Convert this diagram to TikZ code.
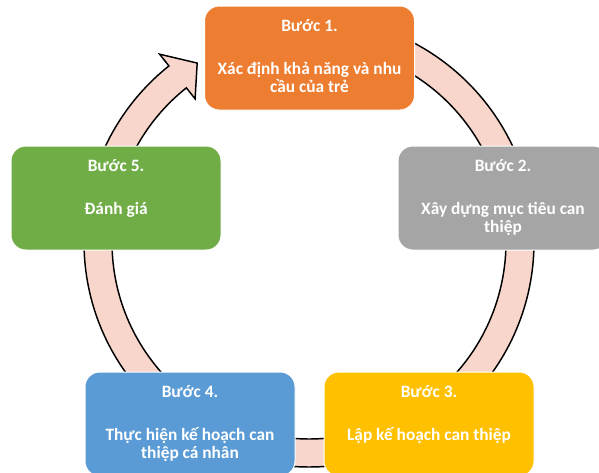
\documentclass[tikz,border=0pt]{standalone}
\usepackage{fontspec}
\setmainfont{Carlito}
\usetikzlibrary{positioning}
\setlength{\lineskiplimit}{-20pt}

\definecolor{stepone}{HTML}{ED7D31}
\definecolor{steptwo}{HTML}{A5A5A5}
\definecolor{stepthree}{HTML}{FFC000}
\definecolor{stepfour}{HTML}{5B9BD5}
\definecolor{stepfive}{HTML}{70AD47}
\definecolor{ringpink}{HTML}{F8D6CB}

\tikzset{
  stepbox/.style={rectangle, rounded corners=11pt, minimum width=157.5pt,
    minimum height=78pt, inner sep=0pt, draw=white, line width=0.75pt},
  steptext/.style={text=white, font=\fontsize{13}{13}\selectfont\bfseries,
    align=center, inner sep=0pt},
  ring/.style={fill=ringpink, draw=black, line width=1.1pt, line join=miter}
}
\newcommand{\firstline}{\rule{0pt}{12pt}}

\begin{document}
\begin{tikzpicture}[x=0.75pt,y=0.75pt]
\useasboundingbox (0,0) rectangle (599,-472);

\pgfmathsetmacro{\outerradius}{225}
\pgfmathsetmacro{\innerradius}{197}
\pgfmathsetmacro{\headangle}{-231.5}

% Circular arrow behind the boxes:
\begin{scope}[shift={(309,-242)}]
\draw[ring] (90:\outerradius) arc (90:\headangle:\outerradius)
        -- (\headangle:240) -- (-238:211) -- (\headangle:183)
        -- (\headangle:\innerradius) arc (\headangle:90:\innerradius) -- cycle;
\end{scope}

% Boxes:
\node[stepbox, fill=stepone] (b1) at (309.5,-58) {};
\node[stepbox, fill=steptwo] (b2) at (503,-198) {};
\node[stepbox, fill=stepthree] (b3) at (429,-424) {};
\node[stepbox, fill=stepfour] (b4) at (190,-424) {};
\node[stepbox, fill=stepfive] (b5) at (116,-198) {};

% Texts:
\node[steptext, below=7.1pt of b1.north] (t1) {\firstline Bước 1.\\[19.6pt]Xác định khả năng và nhu\\cầu của trẻ};
\node[steptext, below=7.1pt of b2.north] (t2) {\firstline Bước 2.\\[19.6pt]Xây dựng mục tiêu can\\thiệp};
\node[steptext, below=7.1pt of b3.north] (t3) {\firstline Bước 3.\\[19.6pt]Lập kế hoạch can thiệp};
\node[steptext, below=7.1pt of b4.north] (t4) {\firstline Bước 4.\\[19.6pt]Thực hiện kế hoạch can\\thiệp cá nhân};
\node[steptext, below=7.1pt of b5.north] (t5) {\firstline Bước 5.\\[19.6pt]Đánh giá};

\end{tikzpicture}
\end{document}
